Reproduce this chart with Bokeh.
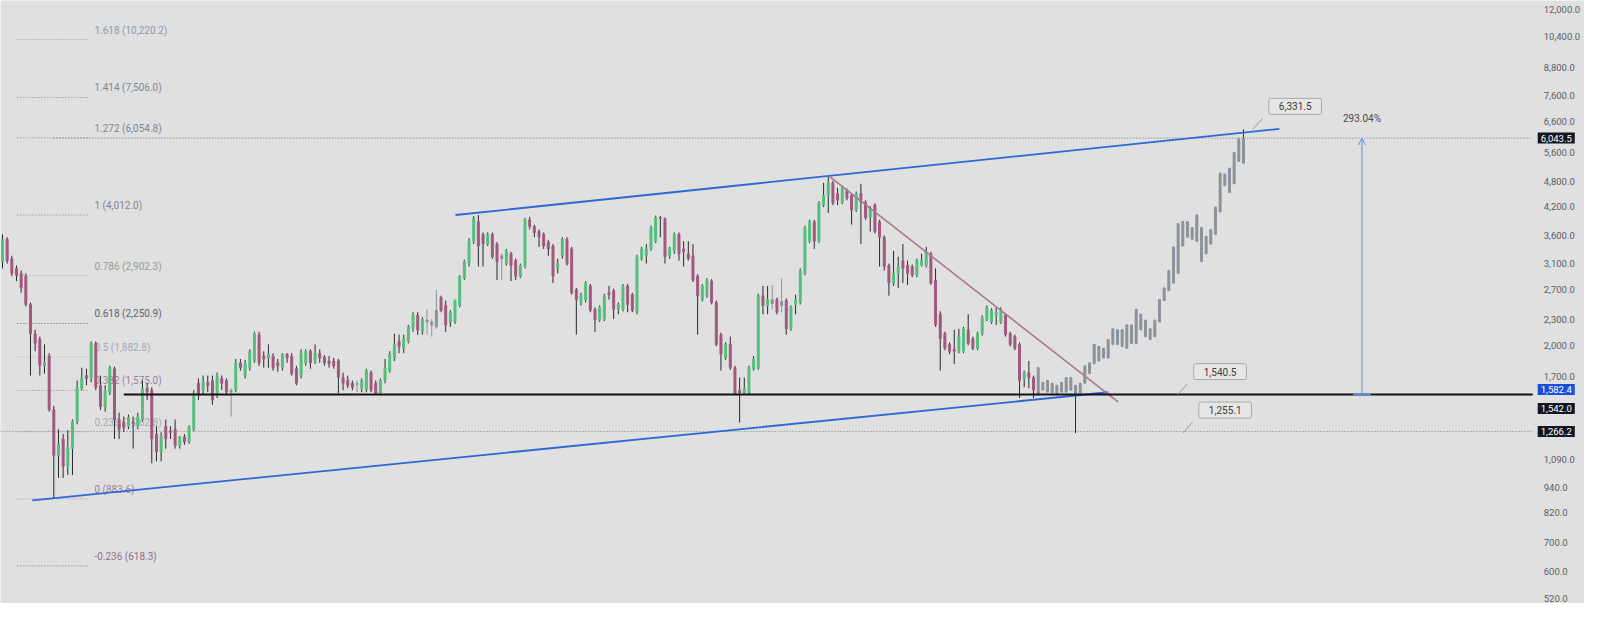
from bokeh.core.properties import value
from bokeh.embed import file_html
from bokeh.models import (Arrow, ColumnDataSource, FixedTicker, Label,
                          NumeralTickFormatter, OpenHead, Range1d)
from bokeh.plotting import figure
from bokeh.resources import INLINE

# candles, one per bar (log price scale)
OPENS = [3129, 3526, 3178, 3018, 2940, 2895, 2490, 2131, 2066, 1796,
         1892, 1421, 1114, 1216, 1052, 1155, 1335, 1594, 1705, 1679,
         2024, 1619, 1444, 1561, 1768, 1349, 1328, 1301, 1335, 1301,
         1349, 1594, 1577, 1248, 1137, 1301, 1268, 1281, 1173, 1229,
         1197, 1281, 1636, 1577, 1644, 1661, 1537, 1679, 1661, 1561,
         1577, 1824, 1705, 1778, 1843, 2120, 1892, 1872, 1892, 1824,
         1778, 1911, 1892, 1768, 1705, 1824, 1941, 1843, 1921, 1882,
         1843, 1843, 1843, 1687, 1661, 1636, 1636, 1594, 1577, 1732,
         1636, 1553, 1661, 1750, 1872, 2045, 1972, 2045, 2187, 2352,
         2153, 2292, 2268, 2210, 2583, 2477, 2268, 2268, 2477, 2865,
         3097, 3490, 3871, 3618, 3436, 3618, 3436, 3228, 3097, 3262,
         3146, 2895, 3049, 3911, 3772, 3675, 3618, 3472, 3401, 3018,
         3228, 3526, 3348, 2693, 2516, 2556, 2749, 2427, 2292, 2304,
         2651, 2679, 2427, 2427, 2749, 2624, 2389, 3178, 3228, 3348,
         3490, 3960, 3930, 3228, 3313, 3618, 3348, 3262, 3228, 2895,
         2556, 2610, 2821, 2516, 2120, 1872, 2013, 1778, 1577, 1553,
         1553, 1768, 1778, 2610, 2477, 2556, 2556, 2477, 2543, 2187,
         2490, 2516, 2940, 3490, 3871, 3490, 4228, 4453, 4762, 4499,
         4294, 4570, 4453, 4119, 4499, 4294, 3952, 4228, 3871, 3563,
         3065, 2791, 2940, 3146, 3065, 3049, 2910, 3065, 3065, 3262,
         2835, 2364, 2131, 2013, 1961, 1941, 1941, 2176, 2077, 1972,
         2131, 2304, 2268, 2352, 2268, 2352, 2131, 2098, 2013, 1679,
         1732, 1687, 1537, 1577, 1561, 1553, 1537, 1561, 1561, 1577,
         1537, 1553, 1636, 1723, 1815, 1843, 1872, 1872, 2013, 2013,
         1992, 1972, 2024, 2024, 2176, 2098, 2066, 2098, 2268, 2543,
         2679, 2791, 2940, 3401, 3563, 3526, 3490, 3129, 3262, 3436,
         3618, 4077, 4690, 4525, 4738, 5340, 5288]

CLOSES = [3526, 3146, 2940, 2910, 2720, 2490, 2131, 2024, 1796, 1824,
          1421, 1114, 1185, 1052, 1167, 1335, 1602, 1687, 1679, 2024,
          1602, 1444, 1577, 1778, 1349, 1281, 1294, 1363, 1321, 1370,
          1594, 1561, 1216, 1137, 1235, 1216, 1261, 1173, 1229, 1197,
          1294, 1553, 1537, 1644, 1619, 1497, 1705, 1636, 1561, 1577,
          1824, 1778, 1815, 1941, 2131, 1824, 1862, 1911, 1778, 1796,
          1911, 1872, 1723, 1636, 1921, 1941, 1824, 1921, 1872, 1824,
          1815, 1796, 1687, 1636, 1619, 1602, 1627, 1661, 1750, 1577,
          1553, 1661, 1778, 1911, 2013, 1992, 2077, 2210, 2352, 2176,
          2304, 2268, 2233, 2414, 2414, 2233, 2389, 2543, 2895, 3129,
          3490, 3952, 3401, 3436, 3618, 3211, 3129, 3178, 3313, 3065,
          2895, 3065, 3911, 3772, 3655, 3563, 3401, 3348, 2895, 3097,
          3526, 3097, 2651, 2556, 2610, 2791, 2414, 2292, 2452, 2610,
          2624, 2427, 2490, 2749, 2490, 2414, 3211, 3348, 3348, 3752,
          3960, 3940, 3211, 3348, 3618, 3262, 3297, 3178, 2835, 2610,
          2749, 2835, 2516, 2013, 1911, 2013, 1778, 1553, 1553, 1594,
          1778, 1862, 2610, 2477, 2556, 2503, 2389, 2530, 2187, 2452,
          2556, 2986, 3752, 3871, 3490, 4272, 4453, 4762, 4272, 4339,
          4642, 4384, 4119, 4499, 4294, 3952, 4163, 3675, 3563, 3049,
          2791, 2940, 3049, 3018, 2940, 2910, 3146, 3146, 3297, 2791,
          2233, 2077, 1972, 1941, 1941, 2098, 2187, 2024, 1972, 2131,
          2328, 2452, 2414, 2389, 2414, 2120, 2013, 1972, 1661, 1732,
          1687, 1577, 1778, 1644, 1661, 1636, 1619, 1644, 1687, 1687,
          1619, 1636, 1796, 1824, 2013, 1992, 1972, 2066, 2187, 2176,
          2176, 2233, 2233, 2427, 2364, 2292, 2187, 2292, 2556, 2720,
          2986, 3383, 3831, 3871, 3871, 3752, 4014, 3752, 3581, 3713,
          4185, 5017, 4991, 5150, 5594, 6025, 6043.5]

HIGHS = [3618, 3563, 3228, 3065, 2986, 2940, 2516, 2176, 2098, 2013,
         1921, 1451, 1281, 1248, 1274, 1349, 1661, 1778, 1768, 2045,
         2045, 1705, 1619, 1796, 1787, 1399, 1370, 1385, 1370, 1399,
         1661, 1636, 1602, 1301, 1261, 1349, 1301, 1349, 1235, 1248,
         1308, 1577, 1679, 1705, 1705, 1705, 1732, 1705, 1679, 1594,
         1862, 1862, 1853, 1961, 2153, 2153, 1941, 2013, 1921, 1862,
         1921, 1921, 1921, 1796, 1961, 1961, 1961, 2013, 1961, 1901,
         1892, 1872, 1862, 1732, 1705, 1661, 1661, 1679, 1768, 1750,
         1661, 1679, 1862, 1941, 2131, 2120, 2120, 2233, 2389, 2389,
         2328, 2427, 2304, 2693, 2610, 2543, 2414, 2556, 2910, 3162,
         3544, 3990, 4012, 3655, 3655, 3655, 3472, 3262, 3348, 3297,
         3178, 3097, 3952, 3973, 3811, 3713, 3655, 3508, 3436, 3178,
         3563, 3563, 3383, 2720, 2651, 2821, 2777, 2452, 2477, 2637,
         2749, 2707, 2516, 2777, 2777, 2651, 3245, 3383, 3436, 3791,
         4000, 3990, 3960, 3383, 3655, 3655, 3490, 3490, 3436, 2925,
         2777, 2865, 2850, 2543, 2142, 2034, 2098, 1796, 1687, 1687,
         1796, 1892, 2637, 2749, 2749, 2763, 2583, 2865, 2570, 2477,
         2624, 3018, 3791, 3911, 3911, 4317, 4762, 4940, 4813, 4642,
         4690, 4618, 4499, 4546, 4738, 4339, 4207, 4272, 3911, 3600,
         3097, 3313, 3211, 3436, 3146, 3081, 3178, 3262, 3383, 3297,
         3018, 2401, 2153, 2034, 2176, 2187, 2210, 2364, 2098, 2153,
         2352, 2477, 2440, 2452, 2452, 2376, 2153, 2120, 2034, 1750,
         1843, 1705, 1778, 1644, 1661, 1636, 1619, 1644, 1687, 1687,
         1619, 1636, 1796, 1824, 2013, 1992, 1972, 2066, 2187, 2176,
         2176, 2233, 2233, 2427, 2364, 2292, 2187, 2292, 2556, 2720,
         2986, 3383, 3831, 3871, 3871, 3752, 4014, 3752, 3581, 3713,
         4185, 5017, 4991, 5150, 5594, 6025, 6331.5]

LOWS = [3018, 3097, 2895, 2821, 2651, 2465, 1705, 1941, 1705, 1723,
        1407, 883.6, 988, 988, 1004, 1004, 1315, 1577, 1619, 1644,
        1577, 1421, 1407, 1537, 1216, 1216, 1261, 1281, 1155, 1281,
        1335, 1497, 1068, 1079, 1079, 1155, 1216, 1155, 1155, 1179,
        1185, 1268, 1497, 1537, 1561, 1459, 1513, 1577, 1537, 1370,
        1561, 1750, 1679, 1750, 1824, 1796, 1778, 1778, 1750, 1741,
        1750, 1824, 1705, 1619, 1679, 1796, 1768, 1815, 1824, 1796,
        1778, 1768, 1553, 1577, 1594, 1577, 1561, 1561, 1561, 1561,
        1537, 1537, 1636, 1732, 1843, 1921, 1921, 2024, 2153, 2120,
        2120, 2120, 2098, 2187, 2389, 2153, 2210, 2245, 2452, 2835,
        3049, 3436, 3049, 3049, 3401, 3178, 2835, 2835, 3065, 2821,
        2835, 2865, 3018, 3713, 3563, 3383, 3348, 3228, 2791, 2940,
        3178, 3065, 2624, 2120, 2477, 2516, 2389, 2153, 2268, 2280,
        2556, 2304, 2364, 2401, 2389, 2389, 2364, 3146, 3097, 3313,
        3454, 3563, 3097, 3178, 3262, 3146, 3049, 3146, 2806, 2120,
        2530, 2583, 2490, 1992, 1750, 1853, 1759, 1537, 1328, 1537,
        1537, 1750, 1759, 2364, 2364, 2427, 2364, 2389, 2120, 2164,
        2364, 2490, 2910, 3454, 3348, 3454, 4185, 4055, 4228, 4228,
        4250, 4339, 3811, 4077, 3436, 3911, 3675, 3636, 3049, 2986,
        2610, 2749, 2720, 2791, 2763, 2880, 2880, 3049, 3034, 2763,
        2210, 1750, 1951, 1911, 1815, 1921, 1921, 2003, 1951, 1951,
        2109, 2280, 2245, 2233, 2245, 2098, 1992, 1951, 1513, 1602,
        1594, 1513, 1537, 1577, 1561, 1553, 1537, 1561, 1561, 1577,
        1255.1, 1553, 1636, 1723, 1815, 1843, 1872, 1872, 2013, 2013,
        1992, 1972, 2024, 2024, 2176, 2098, 2066, 2098, 2268, 2543,
        2679, 2791, 2940, 3401, 3563, 3526, 3490, 3129, 3262, 3436,
        3618, 4077, 4690, 4525, 4738, 5340, 5288]

# bars drawn in the muted grey style
GRAY_FROM = 222
GRAY_MID = [49, 76, 91, 92, 93, 107, 165, 167]

# fibonacci levels (log) as labelled on the chart
FIB_RATIOS = [1.618, 1.414, 1.272, 1, 0.786, 0.618, 0.5, 0.382, 0.236, 0, -0.236]
FIB_PRICES = [10220.2, 7506.0, 6054.8, 4012.0, 2902.3, 2250.9, 1882.8,
              1575.0, 1262.8, 883.6, 618.3]

AXIS_TICKS = [520, 600, 700, 820, 940, 1090, 1700, 2000, 2300, 2700, 3100,
              3600, 4200, 4800, 5600, 6600, 7600, 8800, 10400, 12000]

LAST_PRICE = 6043.5
SUPPORT = 1542.0
CHANNEL_TAG = 1582.4
RAY_PRICE = 1266.2
MOVE_PCT = "293.04%"

# drawings: anchor points as (bar index, price)
UPPER_X, UPPER_Y = [97.1, 273.7], [4012.0, 6350.0]
LOWER_X, LOWER_Y = [6.4, 237.0], [877.0, 1560.0]
DOWN_X, DOWN_Y = [177.1, 239.1], [4940.0, 1482.0]
SUPPORT_FROM = 26.0
LAST_LINE_FROM = 10.9
CALLOUT_X = [268.0, 251.9, 253.0]
CALLOUT_Y = [6331.5, 1540.5, 1255.1]
MEASURE_X = 291.4

BG = "#e0e0e0"
GREEN = "#55bf7d"
MAUVE = "#a2587e"
GRAY = "#8c939a"
WICK = "#26292e"
BLUE = "#2f67d6"
FONT = "Roboto"
FIB_COLORS = ["#8b9bb0", "#7f8891", "#7f8891", "#868686", "#9a9a9a", "#5d6470",
              "#a3abb5", "#9d7f99", "#a3abb5", "#9b7f98", "#8e7489"]

# the price scale sits at AXIS_X inside the frame, like the chart's own pane edge
X_START, X_END, AXIS_X = -0.43, 339.1, 328.0

p = figure(width=1584, height=603, x_range=Range1d(X_START, X_END),
           y_range=Range1d(506, 12583), y_axis_type="log",
           y_axis_location="right", x_axis_location=None,
           toolbar_location=None, output_backend="svg",
           background_fill_color=BG, border_fill_color=BG,
           outline_line_color=None, min_border=0)
p.grid.visible = False

ax = p.yaxis[0]
ax.fixed_location = AXIS_X
ax.ticker = FixedTicker(ticks=AXIS_TICKS, minor_ticks=[])
ax.formatter = NumeralTickFormatter(format="0,0.0")
ax.axis_line_color = None
ax.major_tick_line_color = None
ax.minor_tick_line_color = None
ax.major_label_standoff = 5
ax.major_label_text_font = FONT
ax.major_label_text_font_size = "9.5px"
ax.major_label_text_color = "#5a5e66"

# fib levels, drawn underneath the candles
k = len(FIB_RATIOS)
fib = ColumnDataSource(dict(
    x0=[3.2] * k, x1=[18.2] * k, tx=[19.7] * k, y=FIB_PRICES, color=FIB_COLORS,
    text=[f"{r:g} ({v:,.1f})" for r, v in zip(FIB_RATIOS, FIB_PRICES)]))
p.segment("x0", "y", "x1", "y", source=fib, line_color="color",
          line_width=1, line_dash="1 2")
p.text("tx", "y", text="text", source=fib, text_color="color",
       text_font=value(FONT), text_font_size="10px", text_baseline="bottom",
       y_offset=-4)

p.segment(x0=[X_START], y0=[RAY_PRICE], x1=[AXIS_X], y1=[RAY_PRICE],
          line_color="#7a7a7a", line_width=1, line_dash="1 2")
p.segment(x0=[LAST_LINE_FROM], y0=[LAST_PRICE], x1=[AXIS_X], y1=[LAST_PRICE],
          line_color="#6f6f6f", line_width=1, line_dash="1 2")

# candles
n = len(CLOSES)
fills, wicks = [], []
for i, (o, c) in enumerate(zip(OPENS, CLOSES)):
    if i >= GRAY_FROM or i in GRAY_MID:
        fills.append(GRAY)
        wicks.append(GRAY if i in GRAY_MID else WICK)
    else:
        fills.append(GREEN if c >= o else MAUVE)
        wicks.append(WICK)

src = ColumnDataSource(dict(
    x=list(range(n)),
    top=[max(o, c) for o, c in zip(OPENS, CLOSES)],
    bottom=[min(o, c) for o, c in zip(OPENS, CLOSES)],
    high=[max(h, o, c) for h, o, c in zip(HIGHS, OPENS, CLOSES)],
    low=[min(l, o, c) for l, o, c in zip(LOWS, OPENS, CLOSES)],
    fill=fills, wick=wicks))
p.segment("x", "high", "x", "low", source=src, line_color="wick", line_width=1)
p.vbar(x="x", width=0.42, top="top", bottom="bottom", source=src,
       fill_color="fill", line_color="fill", line_width=1)

# trend lines
p.line(UPPER_X, UPPER_Y, line_color=BLUE, line_width=1.8)
p.line(LOWER_X, LOWER_Y, line_color=BLUE, line_width=1.8)
p.line(DOWN_X, DOWN_Y, line_color="#a87a8e", line_width=1.6)
p.segment(x0=[SUPPORT_FROM], y0=[SUPPORT], x1=[AXIS_X], y1=[SUPPORT],
          line_color="#111111", line_width=2)

# measure arrow
p.add_layout(Arrow(end=OpenHead(size=7, line_color="#5b8fe0", line_width=1),
                   x_start=MEASURE_X, y_start=SUPPORT, x_end=MEASURE_X,
                   y_end=LAST_PRICE, line_color="#5b8fe0", line_width=1))
p.segment(x0=[MEASURE_X - 1.9], y0=[SUPPORT], x1=[MEASURE_X + 1.9], y1=[SUPPORT],
          line_color="#5b8fe0", line_width=2)
p.add_layout(Label(x=MEASURE_X, y=LAST_PRICE, text=MOVE_PCT, y_offset=14,
                   text_align="center", text_baseline="bottom",
                   text_font=FONT, text_font_size="10px", text_color="#4a4a4a"))

# price callouts
p.segment(x0=CALLOUT_X, y0=CALLOUT_Y, x1=[x + 2.1 for x in CALLOUT_X],
          y1=[y * 1.06 for y in CALLOUT_Y], line_color="#9a9a9a", line_width=1)
for cx, cy in zip(CALLOUT_X, CALLOUT_Y):
    p.add_layout(Label(x=cx, y=cy, text=f"{cy:,.1f}", x_offset=16, y_offset=15,
                       text_align="left", text_baseline="bottom",
                       text_font=FONT, text_font_size="10px",
                       text_color="#3c3c3c", background_fill_color="#e6e6e6",
                       border_line_color="#a9a9a9", border_line_width=1,
                       border_radius=2, padding=(10, 4)))

# price tags on the scale
for price, color, dy in [(LAST_PRICE, "#131722", 0), (CHANNEL_TAG, "#1c4fd8", 0),
                         (SUPPORT, "#131722", -14), (RAY_PRICE, "#131722", 0)]:
    p.add_layout(Label(x=AXIS_X, y=price, text=f"{price:,.1f}", x_offset=5,
                       y_offset=dy, text_align="left", text_baseline="middle",
                       text_font=FONT, text_font_size="9.5px", text_color="white",
                       background_fill_color=color, padding=(3, 2)))

open("out.html", "w").write(file_html(p, INLINE))
